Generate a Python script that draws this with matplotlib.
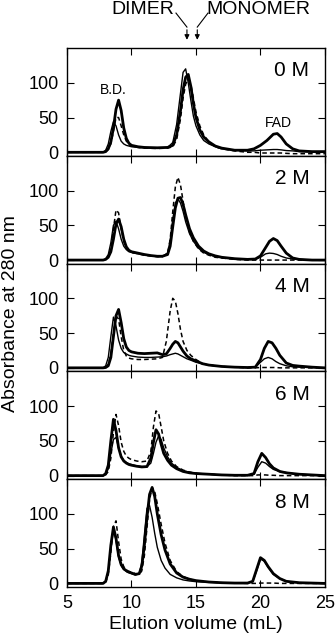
import numpy as np
import matplotlib
matplotlib.use('Agg')
import matplotlib.pyplot as plt
import matplotlib.transforms as mtransforms

plt.rcParams['font.family'] = ['Liberation Sans', 'DejaVu Sans']

# ---- 0 M ----
x_0M = [5, 7.8, 8.0, 8.2, 8.4, 8.6, 8.8, 9.0, 9.2, 9.4, 9.6, 9.8, 10.0, 10.5, 11, 12, 12.8,
        13.2, 13.5, 13.8, 14.0, 14.2, 14.4, 14.6, 14.8, 15.0, 15.3, 15.6, 16.0, 16.5, 17, 18,
        19, 19.5, 20, 20.5, 21.0, 21.3, 21.6, 22, 22.5, 23, 24, 25]
thick_0M = [0, 0, 1, 5, 15, 35, 62, 75, 60, 35, 20, 13, 10, 8, 7, 6.5, 7,
            10, 25, 60, 90, 108, 112, 95, 70, 50, 32, 22, 15, 9, 6, 3,
            3, 5, 10, 17, 26, 27, 22, 12, 5, 2, 1, 1]
thin_0M = [0, 0, 3, 12, 30, 44, 38, 25, 16, 12, 10, 9, 8, 7, 6.5, 6, 7,
           14, 40, 85, 115, 120, 100, 75, 52, 38, 25, 17, 12, 8, 5, 3,
           2, 2, 3, 3.5, 4, 4, 3.5, 2.5, 2, 1, 0.5, 0.5]
dash_0M = [0, 0, 1, 4, 12, 30, 50, 50, 38, 25, 16, 11, 9, 7, 6, 5.5, 6,
           8, 18, 48, 78, 98, 105, 98, 78, 58, 38, 25, 15, 8, 5, 2,
           0, 0, -1, -1, -1, -1, -1, -1.5, -2, -2, -2, -2]

# ---- 2 M ----
x_2M = [5, 7.8, 8.0, 8.2, 8.4, 8.6, 8.8, 9.0, 9.2, 9.4, 9.6, 9.8, 10.0, 10.5, 11, 11.5, 12,
        12.4, 12.8, 13.0, 13.2, 13.4, 13.6, 13.8, 14.0, 14.2, 14.5, 14.8, 15.2, 15.6, 16, 16.5,
        17, 18, 19, 19.6, 20, 20.4, 20.7, 21, 21.3, 21.6, 22, 22.5, 23, 24, 25]
thick_2M = [0, 0, 1, 4, 12, 30, 52, 59, 48, 30, 19, 14, 12, 10, 8, 6.5, 5.5,
            5.5, 8, 20, 48, 75, 89, 90, 80, 65, 45, 32, 20, 13, 9, 6,
            4, 2, 1, 1.5, 6, 18, 27, 31, 28, 20, 10, 3, 1, 0, 0]
thin_2M = [0, 0, 2, 8, 25, 50, 56, 45, 30, 20, 15, 12, 11, 9, 7.5, 6, 5,
           5, 10, 28, 58, 82, 88, 82, 70, 55, 38, 27, 17, 11, 8, 5,
           3.5, 2, 1, 1, 4, 9, 10, 9.5, 8, 5.5, 3, 1.5, 1, 0, 0]
dash_2M = [0, 0, 1, 5, 16, 45, 72, 68, 45, 27, 17, 13, 11, 9, 7, 6, 5,
           5, 10, 30, 70, 105, 119, 108, 85, 62, 40, 27, 16, 10, 7, 4,
           3, 1, 0, 0, 0, 0, 0, 0, 0, 0, 0, 0, 0, 0, 0]

# ---- 4 M ----
x_4M = [5, 7.8, 8.0, 8.2, 8.4, 8.6, 8.8, 9.0, 9.2, 9.4, 9.6, 9.8, 10.0, 10.5, 11, 11.5, 12,
        12.4, 12.7, 13.0, 13.2, 13.4, 13.6, 13.8, 14.0, 14.3, 14.6, 15.0, 15.5, 16, 17, 18,
        19, 19.6, 20.0, 20.3, 20.6, 20.9, 21.2, 21.5, 22, 22.5, 23, 24, 25]
thick_4M = [0, 0, 0.5, 3, 15, 45, 75, 84, 65, 42, 30, 25, 23, 21, 20.5, 21, 21.5,
            19, 20, 28, 34, 38, 36, 30, 24, 17, 13, 10, 6, 4, 2, 1,
            0.5, 1, 12, 28, 38, 36, 28, 18, 7, 3.5, 2.5, 1, 0]
thin_4M = [0, 0, 3, 15, 45, 73, 60, 40, 28, 22, 20, 18, 17, 15.5, 15, 15, 15.5,
           16, 17, 19, 20, 21, 20, 18, 16, 13, 11, 8, 6, 4, 2, 1,
           0.5, 1, 8, 13, 15, 13, 9, 6, 3, 1.5, 1, 0.5, 0]
dash_4M = [0, 0, 1, 5, 20, 50, 75, 70, 45, 25, 17, 14, 13, 12, 12, 12.5, 13,
           15, 38, 82, 100, 96, 78, 55, 38, 25, 18, 12, 6, 4, 2, 1,
           0, 0, 0.5, 0.5, 0.5, 0.5, 0.5, 0, 0, 0, 0, 0, 0]

# ---- 6 M ----
x_6M = [5, 7.8, 8.0, 8.2, 8.4, 8.6, 8.8, 9.0, 9.2, 9.4, 9.6, 9.8, 10.0, 10.4, 10.8, 11.2,
        11.5, 11.7, 11.9, 12.1, 12.3, 12.5, 12.8, 13.1, 13.5, 14, 14.5, 15, 16, 17, 18, 19,
        19.5, 19.8, 20.1, 20.4, 20.7, 21, 21.5, 22, 22.5, 23, 24, 25]
thick_6M = [0, 0, 3, 15, 50, 81, 65, 40, 27, 21, 18, 16, 15, 13.5, 12.5, 13,
            25, 48, 66, 60, 45, 32, 22, 15, 10, 6, 4, 3, 2, 1, 0.5, 0.5,
            3, 20, 32, 26, 17, 11, 6, 4, 3, 2, 1, 0]
thin_6M = [0, 0, 2, 10, 32, 52, 55, 40, 28, 22, 19, 17, 16, 14, 13, 13,
           18, 32, 48, 57, 52, 40, 27, 18, 12, 7, 5, 3.5, 2, 1, 0.5, 0.5,
           2, 12, 20, 18, 13, 9, 6, 4.5, 3, 2, 1, 0]
dash_6M = [0, 0, 1, 6, 25, 62, 88, 72, 48, 35, 28, 25, 23, 21, 20, 21,
           35, 70, 93, 90, 70, 50, 32, 21, 13, 8, 5, 3, 2, 1, 0, 0,
           0, 1, 1, 1, 0.5, 0.5, 0, 0, 0, 0, 0, 0]

# ---- 8 M ----
x_8M = [5, 7.8, 8.0, 8.2, 8.4, 8.6, 8.8, 9.0, 9.2, 9.4, 9.7, 10.0, 10.3, 10.6, 10.8, 11.0,
        11.2, 11.4, 11.6, 11.8, 12.0, 12.3, 12.6, 13.0, 13.5, 14, 14.5, 15, 16, 17, 18, 19,
        19.4, 19.7, 20.0, 20.3, 20.6, 21, 21.5, 22, 23, 24, 25]
thick_8M = [0, 0, 3, 18, 55, 81, 65, 40, 27, 21, 17, 15, 13, 14, 25, 55,
            95, 128, 138, 125, 100, 70, 48, 28, 15, 9, 6, 4, 2, 1, 0.5, 0.5,
            3, 20, 37, 33, 24, 14, 7, 3, 1, 0.5, 0]
thin_8M = [0, 0, 3, 17, 52, 78, 62, 38, 26, 20, 16, 14, 12, 14, 30, 70,
           108, 112, 95, 72, 52, 33, 22, 13, 8, 5, 3.5, 2.5, 1.5, 1, 0.5, 0.5,
           3, 18, 35, 32, 23, 13, 7, 3, 1, 0.5, 0]
dash_8M = [0, 0, 2, 12, 45, 82, 90, 60, 35, 24, 18, 16, 14, 13, 18, 40,
           80, 120, 138, 132, 115, 85, 58, 33, 17, 10, 6, 4, 2, 1, 0.5, 0,
           0, 0, 0.5, 0.5, 0.5, 0.5, 0, 0, 0, 0, 0]

panel_labels = ['0 M', '2 M', '4 M', '6 M', '8 M']
panels = [
    (x_0M, thick_0M, thin_0M, dash_0M),
    (x_2M, thick_2M, thin_2M, dash_2M),
    (x_4M, thick_4M, thin_4M, dash_4M),
    (x_6M, thick_6M, thin_6M, dash_6M),
    (x_8M, thick_8M, thin_8M, dash_8M),
]

fig = plt.figure(figsize=(3.35, 6.4), dpi=100)
gs = fig.add_gridspec(5, 1, left=0.2, right=0.970, top=0.925, bottom=0.083, hspace=0)
axes = []
for i, (x, thick, thin, dash) in enumerate(panels):
    ax = fig.add_subplot(gs[i])
    axes.append(ax)
    ax.plot(x, dash, 'k--', lw=1.1, dashes=(3, 2))
    ax.plot(x, thin, 'k-', lw=1.0)
    ax.plot(x, thick, 'k-', lw=2.0)
    ax.set_xlim(5, 25)
    ax.set_ylim(-5, 150)
    ax.set_yticks([0, 50, 100])
    ax.set_xticks([5, 10, 15, 20, 25])
    ax.tick_params(direction='in', top=True, right=True, labelsize=13, length=5, width=0.8, pad=6)
    if i < 4:
        ax.tick_params(labelbottom=False)
    for s in ax.spines.values():
        s.set_linewidth(1.0)
    ax.text(23.8, 117, panel_labels[i], ha='right', va='center', fontsize=15)

axes[-1].set_xticklabels(['5', '10', '15', '20', '25'])
axes[-1].set_xlabel('Elution volume (mL)', fontsize=14, labelpad=3)
fig.text(0.03, 0.51, 'Absorbance at 280 nm', rotation=90, ha='center', va='center', fontsize=14)

axes[0].text(8.6, 90, 'B.D.', ha='center', va='center', fontsize=10)
axes[0].text(21.4, 42, 'FAD', ha='center', va='center', fontsize=10)

# DIMER / MONOMER arrows above top panel
ax0 = axes[0]
trans = mtransforms.blended_transform_factory(ax0.transData, ax0.transAxes)
for xs, xa in [(13.45, 14.3), (15.93, 15.1)]:
    ax0.plot([xs, xa], [1.324, 1.194], color='k', lw=0.8, transform=trans, clip_on=False)
    ax0.annotate('', xy=(xa, 1.05), xycoords=trans, xytext=(xa, 1.195), textcoords=trans,
                 arrowprops=dict(arrowstyle='-|>', color='k', lw=0.8, mutation_scale=7))
ax0.text(10.9, 1.36, 'DIMER', transform=trans, ha='center', va='center', fontsize=14)
ax0.text(19.8, 1.36, 'MONOMER', transform=trans, ha='center', va='center', fontsize=14)

fig.savefig('out.png', dpi=100)
